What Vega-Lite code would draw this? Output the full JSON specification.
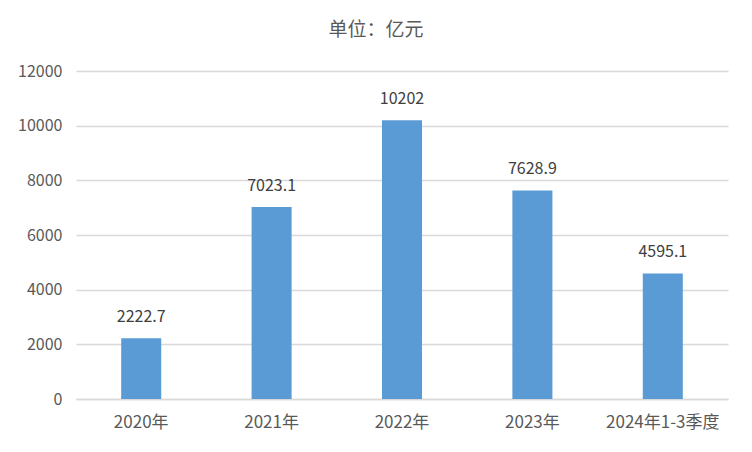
{
  "$schema": "https://vega.github.io/schema/vega-lite/v6.json",
  "width": 652,
  "height": 328,
  "autosize": "none",
  "padding": {"left": 76, "top": 71, "right": 24, "bottom": 53},
  "background": "white",
  "title": {
    "text": "单位：亿元",
    "anchor": "middle",
    "frame": "group",
    "dx": -26,
    "offset": 23,
    "font": "Noto Sans CJK SC",
    "fontSize": 19,
    "fontWeight": "normal",
    "color": "#595959"
  },
  "data": {
    "values": [
      {"period": "2020年", "value": 2222.7, "label": "2222.7"},
      {"period": "2021年", "value": 7023.1, "label": "7023.1"},
      {"period": "2022年", "value": 10202, "label": "10202"},
      {"period": "2023年", "value": 7628.9, "label": "7628.9"},
      {"period": "2024年1-3季度", "value": 4595.1, "label": "4595.1"}
    ]
  },
  "encoding": {
    "x": {
      "field": "period",
      "type": "nominal",
      "sort": null,
      "scale": {"paddingInner": 0.693, "paddingOuter": 0.3465},
      "axis": {
        "title": null,
        "labelAngle": 0,
        "ticks": false,
        "domainColor": "#D9D9D9",
        "domainWidth": 1.5,
        "labelPadding": 15,
        "labelFont": "Noto Sans CJK SC",
        "labelFontSize": 17,
        "labelColor": "#595959"
      }
    },
    "y": {
      "field": "value",
      "type": "quantitative",
      "scale": {"domain": [0, 12000]},
      "axis": {
        "title": null,
        "values": [0, 2000, 4000, 6000, 8000, 10000, 12000],
        "format": "d",
        "domain": false,
        "ticks": false,
        "gridColor": "#D9D9D9",
        "gridWidth": 1.5,
        "labelPadding": 14,
        "labelFont": "Noto Sans CJK SC",
        "labelFontSize": 16,
        "labelColor": "#595959"
      }
    }
  },
  "layer": [
    {"mark": {"type": "bar", "color": "#5B9BD5"}},
    {
      "mark": {
        "type": "text",
        "baseline": "bottom",
        "dy": -13,
        "font": "Noto Sans CJK SC",
        "fontSize": 16,
        "color": "#404040"
      },
      "encoding": {"text": {"field": "label"}}
    }
  ],
  "config": {"view": {"stroke": null}}
}
